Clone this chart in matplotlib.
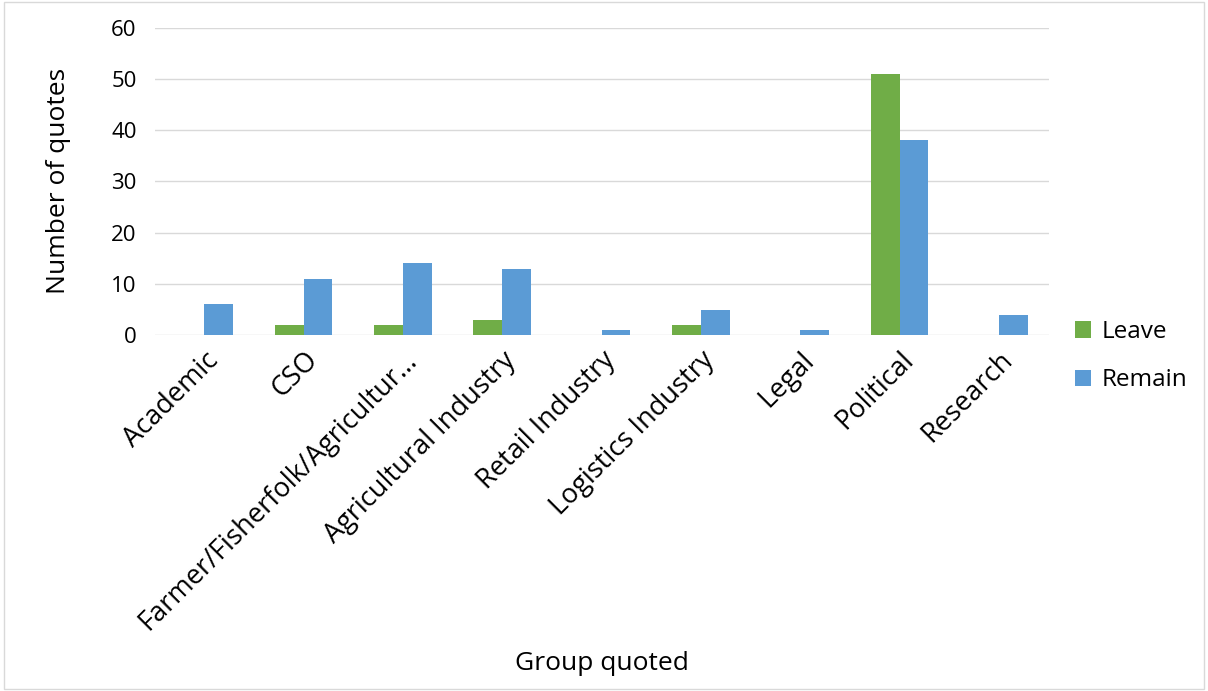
import matplotlib.pyplot as plt
import numpy as np

categories = ["Academic", "CSO", "Farmer/Fisherfolk/Agricultur...",
              "Agricultural Industry", "Retail Industry", "Logistics Industry",
              "Legal", "Political", "Research"]
leave = [0, 2, 2, 3, 0, 2, 0, 51, 0]
remain = [6, 11, 14, 13, 1, 5, 1, 38, 4]

plt.rcParams['font.family'] = ['Open Sans', 'DejaVu Sans']

fig = plt.figure(figsize=(12.08, 6.91), dpi=100)
ax = fig.add_axes([0.128, 0.515, 0.74, 0.445])

x = np.arange(len(categories))
w = 0.29
ax.bar(x - w / 2, leave, w, color="#70ad47", label="Leave")
ax.bar(x + w / 2, remain, w, color="#5b9bd5", label="Remain")

ax.set_xlim(-0.5, len(categories) - 0.5)
ax.set_ylim(0, 60)
ax.set_yticks(range(0, 61, 10))
ax.yaxis.grid(True, color="#d9d9d9", linewidth=1)
ax.set_axisbelow(True)
for s in ax.spines.values():
    s.set_visible(False)
ax.tick_params(length=0)
ax.tick_params(axis='y', labelsize=16, pad=13)
ax.set_xticks(x)
ax.set_xticklabels(categories, rotation=45, ha='right', rotation_mode='anchor', fontsize=19.5)
ax.tick_params(axis='x', pad=8)

ax.set_ylabel("Number of quotes", fontsize=19, labelpad=29)
fig.text(0.498, 0.03, "Group quoted", fontsize=19, ha='center')

fig.legend(loc='upper left', bbox_to_anchor=(0.89, 0.537), frameon=False,
           borderpad=0, borderaxespad=0,
           fontsize=17.5, handlelength=0.65, handleheight=0.65, labelspacing=1.0,
           handletextpad=0.45)

border = plt.Rectangle((0.003, 0.003), 0.994, 0.994, transform=fig.transFigure,
                       fill=False, edgecolor="#d9d9d9", linewidth=1)
fig.patches.append(border)

fig.savefig("out.png", dpi=100)
